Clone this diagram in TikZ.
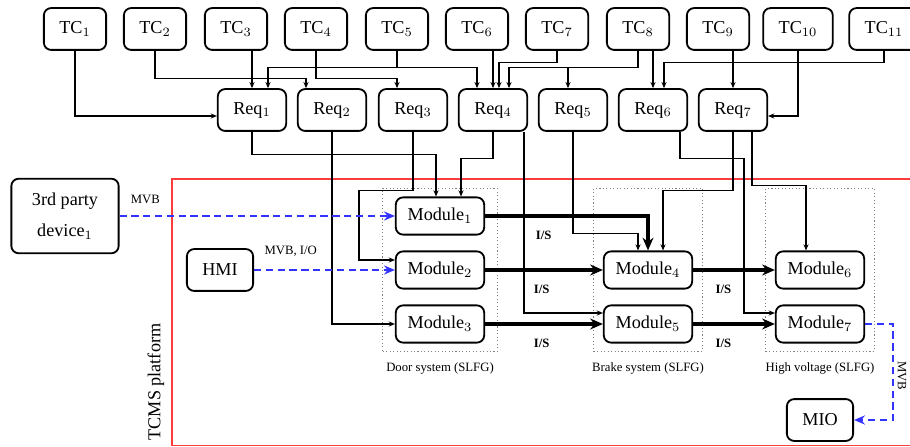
\documentclass[tikz,border=0pt]{standalone}
\usepackage{fontspec}
\setmainfont{Liberation Serif}
\usetikzlibrary{arrows.meta, positioning, calc, fit}
\definecolor{busblue}{RGB}{51, 51, 255}
\definecolor{platred}{RGB}{255, 60, 60}

\begin{document}
\begin{tikzpicture}[
  x=0.55pt, y=-0.55pt,
  blk/.style={draw, line width=1pt, rounded corners=4pt, inner xsep=8.5pt, minimum height=23pt},
  modblk/.style={blk, inner xsep=6.5pt, minimum height=20.5pt},
  link/.style={semithick, -{Stealth[length=3.4pt, width=2.8pt]}},
  isflow/.style={line width=1.7pt, -{Stealth[length=7pt, width=6pt]}},
  bus/.style={draw=busblue, line width=1.1pt, dash pattern=on 4pt off 2.5pt, -{Stealth[length=6pt, width=5pt]}},
  grp/.style={draw=gray, line width=0.6pt, dash pattern=on 0.6pt off 1.3pt, inner xsep=6.6pt, inner ysep=4.4pt},
  lbl/.style={font=\scriptsize},
  islbl/.style={font=\scriptsize\bfseries}
]
  \useasboundingbox (0,0) rectangle (910,447);
  \clip (0,0) rectangle (910,447);

  % platform frame
  \draw[platred, semithick] (172,179) rectangle (940,445.5);
  \node[rotate=90] (tcms) at (156,382) {TCMS platform};

  % test cases and requirements
  \foreach \i/\x in {1/75, 2/155, 3/236, 4/316, 5/397, 6/477, 7/557, 8/638, 9/718, 10/798, 11/884}
    \node[blk] (tc\i) at (\x,29) {TC$_{\i}$};
  \foreach \i/\x in {1/252, 2/332, 3/413, 4/493, 5/573, 6/653, 7/733}
    \node[blk] (req\i) at (\x,110) {Req$_{\i}$};

  % modules
  \node[modblk] (mod1) at (440,216) {Module$_1$};
  \node[modblk] (mod2) at (440,270) {Module$_2$};
  \node[modblk] (mod3) at (440,324) {Module$_3$};
  \node[modblk] (mod4) at (648,270) {Module$_4$};
  \node[modblk] (mod5) at (648,324) {Module$_5$};
  \node[modblk] (mod6) at (820,270) {Module$_6$};
  \node[modblk] (mod7) at (820,324) {Module$_7$};

  \node[blk, align=center, minimum width=59pt, minimum height=41pt] (dev) at (65,216) {3rd party\\[5pt]device$_1$};
  \node[blk] (hmi) at (220,270) {HMI};
  \node[blk] (mio) at (820,420) {MIO};

  % subsystems
  \node[grp, fit=(mod1)(mod3)] (door) {};
  \node[grp, inner xsep=5pt, fit=(mod4)(mod5)(mod4.center |- mod1.north)] (brake) {};
  \node[grp, inner xsep=5pt, fit=(mod6)(mod7)(mod6.center |- mod1.north)] (hv) {};
  \node[lbl, below=2.5pt of door] {Door system (SLFG)};
  \node[lbl, below=2.5pt of brake] {Brake system (SLFG)};
  \node[lbl, below=2.5pt of hv] {High voltage (SLFG)};

  % TC -> Req
  \draw[link] (tc1) |- ($(req1.west)+(0,6)$);
  \draw[link] (tc2.south) -- ++(0,28) -| ($(req2.north)+(-26,0)$);
  \draw[link] (tc3.south -| req1.north) -- (req1.north);
  \draw[link] (tc4.south) -- ++(0,28) -| ($(req3.north)+(-16,0)$);
  \draw[link] (tc5.south) -- ++(0,17) -| ($(req1.north)+(16,0)$);
  \draw[link] (tc5.south) -- ++(0,17) -| ($(req4.north)+(-16,0)$);
  \draw[link] (tc6.south -| req4.north) -- (req4.north);
  \draw[link] (tc7.south) -- ++(0,12) -| ($(req4.north)+(6,0)$);
  \draw[link] (tc8.south) -- ++(0,17) -| ($(req4.north)+(16,0)$);
  \draw[link] (tc8.south) -- ++(0,17) -| ($(req5.north)+(-5,0)$);
  \draw[link] (tc8.south -| req6.north) -- (req6.north);
  \draw[link] (tc9.south -| req7.north) -- (req7.north);
  \draw[link] (tc10) |- ($(req7.east)+(0,6)$);
  \draw[link] (tc11.south) -- ++(0,12) -| ($(req6.north)+(11,0)$);

  % Req -> modules
  \draw[link] (req1.south) -- ++(0,23) -| ($(mod1.north)+(-4,0)$);
  \draw[link] (req2) |- (mod3);
  \draw[link] (req3.south) -- ++(0,59) -- ++(-54,0) |- ($(mod2.west)+(0,-10)$);
  \draw[link] (req4.south) -- ++(0,27) -| ($(mod1.north)+(21,0)$);
  \draw[link] ($(req4.south)+(31,0)$) |- ($(mod5.west)+(0,-11)$);
  \draw[link] (req5.south) -- ++(0,102) -| ($(mod4.north)+(-10,0)$);
  \draw[link] ($(req6.south)+(27,0)$) -- ++(0,27) -- ++(64,0) |- ($(mod7.west)+(0,-11)$);
  \draw[link] (req7.south) -- ++(0,59) -| ($(mod4.north)+(15,0)$);
  \draw[link] ($(req7.south)+(19,0)$) -- ++(0,54) -| ($(mod6.north)+(-14,0)$);

  % I/S flows
  \draw[isflow] (mod1) -| (mod4) node[islbl, pos=0.18, below=4pt] {I/S};
  \draw[isflow] (mod2) -- (mod4) node[islbl, pos=0.48, below=4pt] {I/S};
  \draw[isflow] (mod3) -- (mod5) node[islbl, pos=0.48, below=4pt] {I/S};
  \draw[isflow] (mod4) -- (mod6) node[islbl, pos=0.37, below=4pt] {I/S};
  \draw[isflow] (mod5) -- (mod7) node[islbl, pos=0.37, below=4pt] {I/S};

  % buses
  \draw[bus] (dev) -- (mod1) node[lbl, pos=0.094, above=3pt] {MVB};
  \draw[bus] (hmi) -- (mod2) node[lbl, pos=0.26, above=3.5pt] {MVB, I/O};
  \draw[bus] (mod7.east) -- ++(28,0) |- (mio) node[lbl, pos=0.27, sloped, above=0.5pt, inner sep=1.5pt] {MVB};
\end{tikzpicture}
\end{document}
